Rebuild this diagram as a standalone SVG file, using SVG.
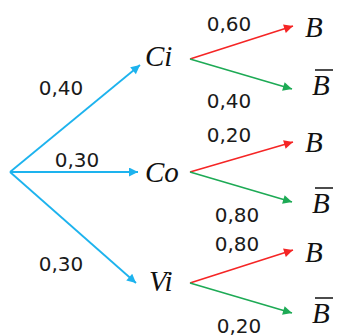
<svg xmlns="http://www.w3.org/2000/svg" width="337" height="335" viewBox="0 0 337 335">
<style>
.num{font-family:"DejaVu Sans","Liberation Sans",sans-serif;font-size:20px;fill:#1a1a1a;text-anchor:middle}
.var{font-family:"Liberation Serif","Times New Roman",serif;font-style:italic;font-size:29px;fill:#111}
.blue{stroke:#1DB3EE;stroke-width:1.8;fill:none}
.red{stroke:#F52525;stroke-width:1.6;fill:none}
.green{stroke:#1DAA55;stroke-width:1.6;fill:none}
.bar{stroke:#111;stroke-width:1.5}
</style>
<defs>
<marker id="ab" viewBox="0 0 10 10" refX="10" refY="5" markerWidth="11" markerHeight="9" markerUnits="userSpaceOnUse" orient="auto"><path d="M0,0L10,5L0,10z" fill="#1DB3EE"/></marker>
<marker id="ar" viewBox="0 0 10 10" refX="10" refY="5" markerWidth="11" markerHeight="9" markerUnits="userSpaceOnUse" orient="auto"><path d="M0,0L10,5L0,10z" fill="#F52525"/></marker>
<marker id="ag" viewBox="0 0 10 10" refX="10" refY="5" markerWidth="11" markerHeight="9" markerUnits="userSpaceOnUse" orient="auto"><path d="M0,0L10,5L0,10z" fill="#1DAA55"/></marker>
</defs>
<g id="connectors">
<line class="blue" x1="10" y1="172" x2="140" y2="65" marker-end="url(#ab)"/>
<line class="blue" x1="10" y1="172" x2="138" y2="172" marker-end="url(#ab)"/>
<line class="blue" x1="10" y1="172" x2="136" y2="283" marker-end="url(#ab)"/>
<line class="red" x1="190" y1="59" x2="293" y2="26" marker-end="url(#ar)"/>
<line class="green" x1="190" y1="59" x2="292" y2="89" marker-end="url(#ag)"/>
<line class="red" x1="190" y1="172" x2="293" y2="142" marker-end="url(#ar)"/>
<line class="green" x1="190" y1="172" x2="292" y2="202" marker-end="url(#ag)"/>
<line class="red" x1="190" y1="283" x2="293" y2="250" marker-end="url(#ar)"/>
<line class="green" x1="190" y1="283" x2="292" y2="313" marker-end="url(#ag)"/>
<text class="num" x="61" y="95">0,40</text>
<text class="num" x="77" y="167">0,30</text>
<text class="num" x="61" y="271">0,30</text>
<text class="num" x="229" y="31">0,60</text>
<text class="num" x="229" y="108">0,40</text>
<text class="num" x="229" y="142">0,20</text>
<text class="num" x="237" y="222">0,80</text>
<text class="num" x="237" y="251">0,80</text>
<text class="num" x="239" y="333">0,20</text>
</g>
<g id="node-Ci"><text class="var" x="145" y="66">Ci</text></g>
<g id="node-Co"><text class="var" x="145" y="182">Co</text></g>
<g id="node-Vi"><text class="var" x="149" y="291">Vi</text></g>
<g id="node-Ci-B"><text class="var" x="305" y="37">B</text></g>
<g id="node-Ci-notB"><line class="bar" x1="315" y1="70" x2="333" y2="70"/><text class="var" x="312" y="95">B</text></g>
<g id="node-Co-B"><text class="var" x="305" y="152">B</text></g>
<g id="node-Co-notB"><line class="bar" x1="315" y1="188" x2="333" y2="188"/><text class="var" x="312" y="213">B</text></g>
<g id="node-Vi-B"><text class="var" x="305" y="262">B</text></g>
<g id="node-Vi-notB"><line class="bar" x1="315" y1="298" x2="333" y2="298"/><text class="var" x="312" y="323">B</text></g>
</svg>
